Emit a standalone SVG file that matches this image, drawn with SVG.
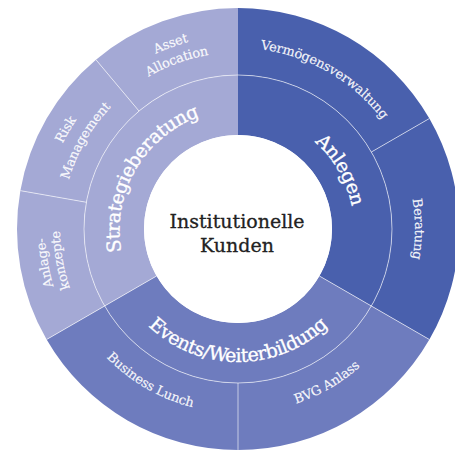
<svg xmlns="http://www.w3.org/2000/svg" width="455" height="452" viewBox="0 0 455 452">
<style>
.light{fill:#a4a9d5}
.mid{fill:#6e7cbe}
.dark{fill:#4960ad}
.sep{stroke:#ffffff;stroke-opacity:0.6;stroke-width:1;fill:none}
.outer{font-family:"DejaVu Serif","Liberation Serif",serif;font-size:13px;letter-spacing:-0.2px;fill:#ffffff;fill-opacity:0.93;stroke:#ffffff;stroke-opacity:0.6;stroke-width:0.3}
.inner{font-family:"DejaVu Serif","Liberation Serif",serif;font-size:19px;letter-spacing:-0.5px;fill:#ffffff;stroke:#ffffff;stroke-width:0.35}
.center{font-family:"DejaVu Serif","Liberation Serif",serif;font-size:19px;fill:#222222;stroke:#222222;stroke-width:0.3}
</style>
<defs>
<path id="pVerm" d="M 206.57 50.75 A 181 181 0 0 1 408.08 167.1"/>
<path id="pBer" d="M 373.59 115.22 A 177 177 0 0 1 373.59 342.78"/>
<path id="pAsset1" d="M 70.43 132.25 A 193.5 193.5 0 0 1 304.18 47.17"/>
<path id="pAsset2" d="M 85.15 140.75 A 176.5 176.5 0 0 1 298.36 63.14"/>
<path id="pRisk1" d="M 45.96 262.85 A 195 195 0 0 1 171.31 45.76"/>
<path id="pRisk2" d="M 64.68 259.55 A 176 176 0 0 1 177.81 63.61"/>
<path id="pAnl1" d="M 113.94 376.84 A 193 193 0 0 1 70.86 132.5"/>
<path id="pAnl2" d="M 123.58 365.35 A 178 178 0 0 1 83.85 140"/>
<path id="pBus" d="M 65.1 291.93 A 184 184 0 0 0 269.95 410.2"/>
<path id="pBvg" d="M 206.05 410.2 A 184 184 0 0 0 410.9 291.93"/>
<path id="pStrat" d="M 146.08 306.14 A 121 121 0 0 1 258.84 110.82"/>
<path id="pAnlegen" d="M 277.67 120 A 116 116 0 0 1 352.24 249.14"/>
<path id="pEvents" d="M 114.9 273.8 A 130 130 0 0 0 361.1 273.8"/>
</defs>

<g id="anlegen">
<path class="dark" d="M 238 75 A 154 154 0 0 1 371.37 306 L 319.41 276 A 94 94 0 0 0 238 135 Z"/>
<text class="inner"><textPath href="#pAnlegen" startOffset="50%" text-anchor="middle">Anlegen</textPath></text>
</g>
<g id="events">
<path class="mid" d="M 371.37 306 A 154 154 0 0 1 104.63 306 L 156.59 276 A 94 94 0 0 0 319.41 276 Z"/>
<text class="inner"><textPath href="#pEvents" startOffset="50%" text-anchor="middle">Events/Weiterbildung</textPath></text>
</g>
<g id="strategieberatung">
<path class="light" d="M 104.63 306 A 154 154 0 0 1 238 75 L 238 135 A 94 94 0 0 0 156.59 276 Z"/>
<text class="inner"><textPath href="#pStrat" startOffset="50%" text-anchor="middle">Strategieberatung</textPath></text>
</g>

<g id="vermoegensverwaltung">
<path class="dark" d="M 238 8 A 221 221 0 0 1 429.39 118.5 L 371.37 152 A 154 154 0 0 0 238 75 Z"/>
<text class="outer"><textPath href="#pVerm" startOffset="50%" text-anchor="middle">Vermögensverwaltung</textPath></text>
</g>
<g id="beratung">
<path class="dark" d="M 429.39 118.5 A 221 221 0 0 1 429.39 339.5 L 371.37 306 A 154 154 0 0 0 371.37 152 Z"/>
<text class="outer"><textPath href="#pBer" startOffset="50%" text-anchor="middle">Beratung</textPath></text>
</g>
<g id="bvg-anlass">
<path class="mid" d="M 429.39 339.5 A 221 221 0 0 1 238 450 L 238 383 A 154 154 0 0 0 371.37 306 Z"/>
<text class="outer"><textPath href="#pBvg" startOffset="50%" text-anchor="middle">BVG Anlass</textPath></text>
</g>
<g id="business-lunch">
<path class="mid" d="M 238 450 A 221 221 0 0 1 46.61 339.5 L 104.63 306 A 154 154 0 0 0 238 383 Z"/>
<text class="outer"><textPath href="#pBus" startOffset="50%" text-anchor="middle">Business Lunch</textPath></text>
</g>
<g id="anlagekonzepte">
<path class="light" d="M 46.61 339.5 A 221 221 0 0 1 20.36 190.63 L 86.34 202.27 A 154 154 0 0 0 104.63 306 Z"/>
<text class="outer"><textPath href="#pAnl1" startOffset="50%" text-anchor="middle">Anlage-</textPath></text>
<text class="outer"><textPath href="#pAnl2" startOffset="50%" text-anchor="middle">konzepte</textPath></text>
</g>
<g id="risk-management">
<path class="light" d="M 20.36 190.63 A 221 221 0 0 1 95.94 59.71 L 139.01 111.04 A 154 154 0 0 0 86.34 202.27 Z"/>
<text class="outer"><textPath href="#pRisk1" startOffset="50%" text-anchor="middle">Risk</textPath></text>
<text class="outer"><textPath href="#pRisk2" startOffset="50%" text-anchor="middle">Management</textPath></text>
</g>
<g id="asset-allocation">
<path class="light" d="M 95.94 59.71 A 221 221 0 0 1 238 8 L 238 75 A 154 154 0 0 0 139.01 111.04 Z"/>
<text class="outer"><textPath href="#pAsset1" startOffset="50%" text-anchor="middle">Asset</textPath></text>
<text class="outer"><textPath href="#pAsset2" startOffset="50%" text-anchor="middle">Allocation</textPath></text>
</g>

<g id="connectors">
<circle class="sep" cx="238" cy="229" r="154"/>
<line class="sep" x1="319.41" y1="276" x2="429.39" y2="339.5"/>
<line class="sep" x1="156.59" y1="276" x2="46.61" y2="339.5"/>
<line class="sep" x1="371.37" y1="152" x2="429.39" y2="118.5"/>
<line class="sep" x1="238" y1="383" x2="238" y2="450"/>
<line class="sep" x1="86.34" y1="202.27" x2="20.36" y2="190.63"/>
<line class="sep" x1="139.01" y1="111.04" x2="95.94" y2="59.71"/>
</g>

<g id="institutionelle-kunden">
<circle cx="238" cy="229" r="94" fill="#ffffff"/>
<text class="center" x="237" y="228" text-anchor="middle">Institutionelle</text>
<text class="center" x="237" y="252" text-anchor="middle">Kunden</text>
</g>
</svg>
